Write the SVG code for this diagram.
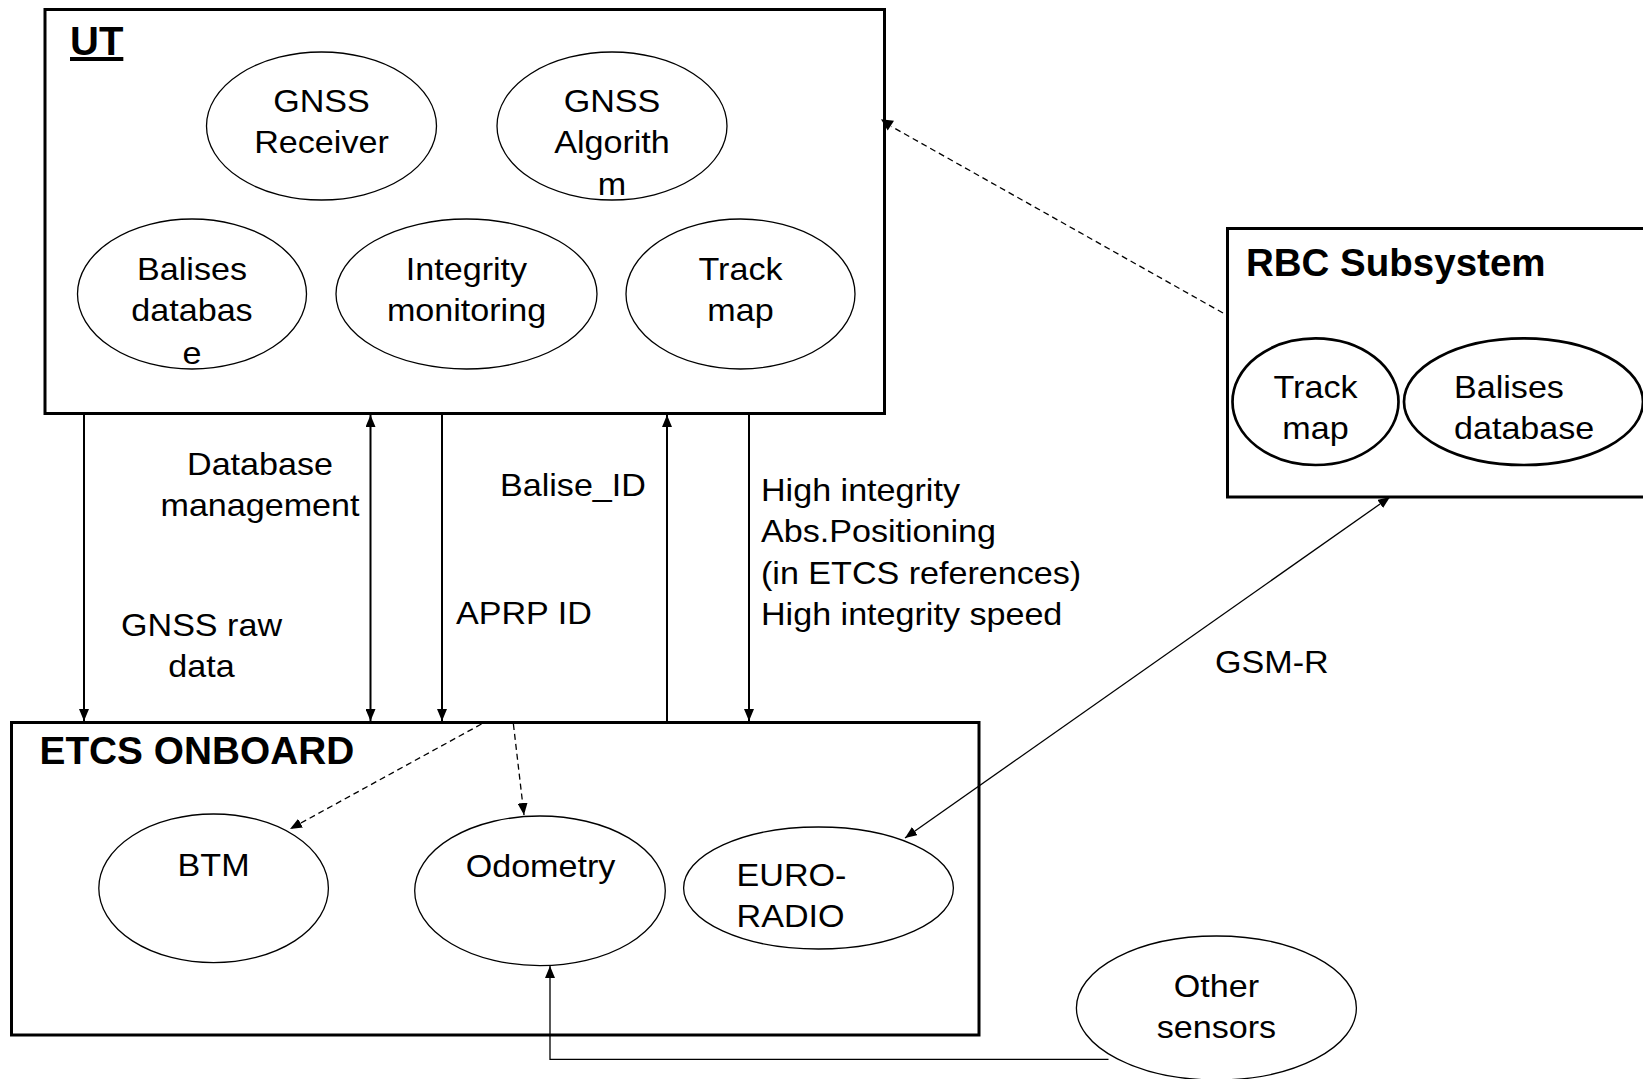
<svg xmlns="http://www.w3.org/2000/svg" width="1643" height="1079" viewBox="0 0 1643 1079">
  <style>
    .t { font-family: "Liberation Sans", Arial, Helvetica, sans-serif; font-size: 31px; fill: #000; }
    .m { text-anchor: middle; }
    .b { font-weight: bold; }
    .box { fill: none; stroke: #000; stroke-width: 3; }
    .el { fill: #fff; stroke: #000; stroke-width: 1.3; }
    .elb { fill: #fff; stroke: #000; stroke-width: 2.7; }
    .thick { fill: none; stroke: #000; stroke-width: 2; }
    .thin { fill: none; stroke: #000; stroke-width: 1.3; }
    .dash { fill: none; stroke: #000; stroke-width: 1.3; stroke-dasharray: 6 4; }
  </style>
  <defs>
    <marker id="ah" viewBox="0 0 12 10" refX="12" refY="5" markerWidth="12" markerHeight="10" markerUnits="userSpaceOnUse" orient="auto-start-reverse">
      <path d="M0,0 L12,5 L0,10 z" fill="#000"/>
    </marker>
  </defs>

  <rect width="1643" height="1079" fill="#fff"/>

  <!-- UT block -->
  <g id="ut">
    <rect class="box" x="45" y="9.5" width="839.5" height="404"/>
    <text class="t b" x="70" y="55" text-decoration="underline" style="font-size:40px">UT</text>
  </g>
  <g id="gnss-receiver">
    <ellipse class="el" cx="321.5" cy="126" rx="115" ry="74"/>
    <text class="t m" transform="translate(321.5 0) scale(1.1 1)"><tspan x="0" y="112">GNSS</tspan><tspan x="0" y="153.5">Receiver</tspan></text>
  </g>
  <g id="gnss-algorithm">
    <ellipse class="el" cx="612" cy="126" rx="115" ry="74"/>
    <text class="t m" transform="translate(612 0) scale(1.1 1)"><tspan x="0" y="112">GNSS</tspan><tspan x="0" y="153.5">Algorith</tspan><tspan x="0" y="195">m</tspan></text>
  </g>
  <g id="ut-balises-db">
    <ellipse class="el" cx="192" cy="294" rx="114.5" ry="75"/>
    <text class="t m" transform="translate(192 0) scale(1.1 1)"><tspan x="0" y="280">Balises</tspan><tspan x="0" y="321.5">databas</tspan><tspan x="0" y="364">e</tspan></text>
  </g>
  <g id="integrity-monitoring">
    <ellipse class="el" cx="466.5" cy="294" rx="130.5" ry="75"/>
    <text class="t m" transform="translate(466.5 0) scale(1.1 1)"><tspan x="0" y="280">Integrity</tspan><tspan x="0" y="321.5">monitoring</tspan></text>
  </g>
  <g id="ut-track-map">
    <ellipse class="el" cx="740.5" cy="294" rx="114.5" ry="75"/>
    <text class="t m" transform="translate(740.5 0) scale(1.1 1)"><tspan x="0" y="280">Track</tspan><tspan x="0" y="321.5">map</tspan></text>
  </g>

  <!-- RBC subsystem -->
  <g id="rbc">
    <rect class="box" x="1227.5" y="228.5" width="430" height="268.5"/>
    <text class="t b" x="1246" y="275.7" style="font-size:38.5px">RBC Subsystem</text>
  </g>
  <g id="rbc-track-map">
    <ellipse class="elb" cx="1315.5" cy="401.7" rx="83" ry="63.3"/>
    <text class="t m" transform="translate(1315.5 0) scale(1.1 1)"><tspan x="0" y="398">Track</tspan><tspan x="0" y="439">map</tspan></text>
  </g>
  <g id="rbc-balises-db">
    <ellipse class="elb" cx="1523.5" cy="401.7" rx="119.5" ry="63.3"/>
    <text class="t" transform="translate(1454 0) scale(1.1 1)"><tspan x="0" y="398">Balises</tspan><tspan x="0" y="439">database</tspan></text>
  </g>

  <!-- ETCS onboard -->
  <g id="etcs">
    <rect class="box" x="11.5" y="722.5" width="967.5" height="312.5"/>
    <text class="t b" x="39.5" y="764" style="font-size:38.8px">ETCS ONBOARD</text>
  </g>
  <g id="btm">
    <ellipse class="el" cx="213.6" cy="888.3" rx="114.8" ry="74.3"/>
    <text class="t m" transform="translate(213.6 0) scale(1.1 1)"><tspan x="0" y="876">BTM</tspan></text>
  </g>
  <g id="odometry">
    <ellipse class="el" cx="540" cy="890.8" rx="125.3" ry="74.8"/>
    <text class="t m" transform="translate(540.5 0) scale(1.1 1)"><tspan x="0" y="877">Odometry</tspan></text>
  </g>
  <g id="euroradio">
    <ellipse class="el" cx="818.5" cy="888" rx="134.9" ry="61"/>
    <text class="t" transform="translate(736.6 0) scale(1.1 1)"><tspan x="0" y="886">EURO-</tspan><tspan x="0" y="927">RADIO</tspan></text>
  </g>

  <!-- External sensors -->
  <g id="other-sensors">
    <ellipse class="el" cx="1216.4" cy="1008" rx="140" ry="72"/>
    <text class="t m" transform="translate(1216.4 0) scale(1.1 1)"><tspan x="0" y="997">Other</tspan><tspan x="0" y="1038">sensors</tspan></text>
  </g>

  <!-- Connectors -->
  <g id="connectors">
    <line class="thick" x1="84" y1="415" x2="84" y2="721" marker-end="url(#ah)"/>
    <line class="thick" x1="370.5" y1="415" x2="370.5" y2="721" marker-start="url(#ah)" marker-end="url(#ah)"/>
    <line class="thick" x1="442" y1="415" x2="442" y2="721" marker-end="url(#ah)"/>
    <line class="thick" x1="667" y1="721" x2="667" y2="415" marker-end="url(#ah)"/>
    <line class="thick" x1="749" y1="415" x2="749" y2="721" marker-end="url(#ah)"/>

    <line class="dash" x1="481.5" y1="724" x2="290" y2="829" marker-end="url(#ah)"/>
    <line class="dash" x1="513.4" y1="724" x2="524" y2="815" marker-end="url(#ah)"/>

    <line class="dash" x1="1223" y1="313" x2="891.5" y2="126.5"/>
    <polygon points="881,119.3 894,120.7 887.7,130.5" fill="#000"/>

    <line class="thin" x1="905" y1="838" x2="1390" y2="497" marker-start="url(#ah)" marker-end="url(#ah)"/>

    <polyline class="thin" points="1108.5,1059.3 550,1059.3 550,966" marker-end="url(#ah)"/>
  </g>

  <!-- Connector labels -->
  <g id="labels">
    <text class="t m" transform="translate(260 0) scale(1.1 1)"><tspan x="0" y="475">Database</tspan><tspan x="0" y="516.5">management</tspan></text>
    <text class="t m" transform="translate(201.5 0) scale(1.1 1)"><tspan x="0" y="636">GNSS raw</tspan><tspan x="0" y="677.5">data</tspan></text>
    <text class="t" transform="translate(500 0) scale(1.1 1)"><tspan x="0" y="496.5">Balise_ID</tspan></text>
    <text class="t" transform="translate(456 0) scale(1.1 1)"><tspan x="0" y="624">APRP ID</tspan></text>
    <text class="t" transform="translate(761 0) scale(1.1 1)"><tspan x="0" y="501">High integrity</tspan><tspan x="0" y="542.3">Abs.Positioning</tspan><tspan x="0" y="583.8">(in ETCS references)</tspan><tspan x="0" y="625">High integrity speed</tspan></text>
    <text class="t" transform="translate(1215 0) scale(1.1 1)"><tspan x="0" y="673.5">GSM-R</tspan></text>
  </g>
</svg>
